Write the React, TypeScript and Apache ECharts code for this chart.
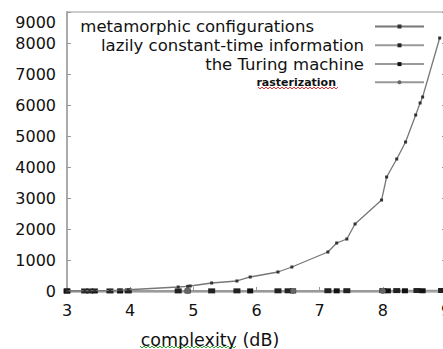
import React, { useEffect, useRef } from "react";
import * as echarts from "echarts";

const seriesNames = [
  "metamorphic configurations",
  "lazily constant-time information",
  "the Turing machine",
  "rasterization",
];

// metamorphic configurations (x = complexity dB, y = value)
const metaX = [3.0, 3.28, 3.36, 3.44, 3.68, 3.84, 3.97, 4.76, 4.91, 4.95, 5.29, 5.69, 5.9, 6.34, 6.56, 7.13, 7.27, 7.43, 7.56, 7.98, 8.06, 8.22, 8.36, 8.52, 8.59, 8.63, 8.9];
const metaY = [0, 5, 8, 10, 20, 30, 40, 129, 150, 161, 258, 323, 452, 613, 774, 1258, 1548, 1677, 2161, 2935, 3677, 4258, 4806, 5677, 6065, 6258, 8161];

const lazyX = [3.0, 3.28, 3.36, 3.68, 3.97, 4.76, 5.29, 5.69, 6.34, 6.5, 7.13, 7.43, 8.0, 8.22, 8.54, 8.93];
const lazyY = [0, 1, 1, 2, 2, 3, 4, 5, 6, 7, 9, 10, 12, 13, 15, 17];

const turingX = [3.0, 3.44, 3.84, 4.91, 5.9, 6.58, 7.27, 8.08, 8.35, 8.63];
const turingY = [0, 1, 1, 2, 3, 4, 5, 6, 7, 8];

const rasterX = [4.91, 6.58, 8.0];
const rasterY = [1, 2, 3];

const yTicks = [0, 1000, 2000, 3000, 4000, 5000, 6000, 7000, 8000, 9000];
const xTicks = [3, 4, 5, 6, 7, 8, 9];

const FONT = "DejaVu Sans";

function zigzag(x0: number, x1: number, y: number, step: number, amp: number) {
  const pts: number[][] = [];
  let i = 0;
  for (let x = x0; x <= x1; x += step) {
    pts.push([x, y + (i % 2 === 0 ? 0 : amp)]);
    i++;
  }
  return pts;
}

export default function App() {
  const ref = useRef<HTMLDivElement>(null);
  useEffect(() => {
    const chart = echarts.init(ref.current!, null, { renderer: "svg" });
    const pair = (xs: number[], ys: number[]) => xs.map((x, i) => [x, ys[i]]);
    const legendText = (pad: number, size: number, weight: string = "normal") => ({
      fontFamily: FONT,
      fontSize: size,
      fontWeight: weight,
      lineHeight: 15.5,
      color: "#111",
      padding: [0, pad, 0, 0],
    });
    chart.setOption({
      animation: false,
      grid: {
        left: 67,
        top: 12,
        right: -3,
        bottom: 58,
        outerBoundsMode: "none",
        containLabel: false,
        show: true,
        borderColor: "#999",
        borderWidth: 1,
      },
      legend: {
        orient: "vertical",
        align: "right",
        right: 13,
        top: 13,
        itemWidth: 49,
        itemHeight: 5,
        itemGap: 1.8,
        data: [
          { name: seriesNames[0], textStyle: legendText(56, 16.5) },
          { name: seriesNames[1], textStyle: legendText(6, 16.5) },
          { name: seriesNames[2], textStyle: legendText(6, 16.5) },
          { name: seriesNames[3], textStyle: legendText(34, 11, "bold") },
        ],
      },
      xAxis: {
        type: "value",
        min: 3,
        max: 9,
        interval: 1,
        name: "complexity (dB)",
        nameLocation: "middle",
        nameGap: 40,
        nameTextStyle: {
          fontFamily: FONT,
          fontSize: 17.5,
          color: "#111",
          padding: [0, 93, 0, 0],
        },
        axisLine: { lineStyle: { color: "#aaa", width: 2.5 } },
        axisTick: { inside: true, length: 4, lineStyle: { color: "#999" } },
        axisLabel: {
          fontFamily: FONT,
          fontSize: 16,
          color: "#111",
          margin: 11,
          formatter: (v: number) => (xTicks.includes(v) ? String(v) : ""),
        },
        splitLine: { show: false },
      },
      yAxis: [
        {
          type: "value",
          min: 0,
          max: 9000,
          interval: 1000,
          axisLine: { show: true, lineStyle: { color: "#aaa", width: 2 } },
          axisTick: { show: true, inside: true, length: 4, lineStyle: { color: "#999" } },
          axisLabel: {
            fontFamily: FONT,
            fontSize: 16,
            color: "#111",
            margin: 11,
            formatter: (v: number) =>
              yTicks.includes(v) ? (v === 9000 ? "{a|9000}" : String(v)) : "",
            rich: { a: { fontFamily: FONT, fontSize: 16, color: "#111", padding: [20, 0, 0, 0] } },
          },
          splitLine: { show: false },
        },
        {
          type: "value",
          min: 0,
          max: 9000,
          interval: 1000,
          position: "right",
          axisLine: { show: false },
          axisTick: { show: true, inside: true, length: 4, lineStyle: { color: "#999" } },
          axisLabel: { show: false },
          splitLine: { show: false },
        },
      ],
      series: [
        {
          name: seriesNames[0],
          type: "line",
          data: pair(metaX, metaY),
          symbol: "rect",
          symbolSize: 3,
          itemStyle: { color: "#333" },
          lineStyle: { color: "#777", width: 1.3 },
          z: 5,
        },
        {
          name: seriesNames[1],
          type: "line",
          data: pair(lazyX, lazyY),
          symbol: "rect",
          symbolSize: [7, 5],
          itemStyle: { color: "#222" },
          lineStyle: { color: "#999", width: 1.5 },
        },
        {
          name: seriesNames[2],
          type: "line",
          data: pair(turingX, turingY),
          symbol: "rect",
          symbolSize: [6, 5],
          itemStyle: { color: "#111" },
          lineStyle: { color: "#999", width: 1.5 },
        },
        {
          name: seriesNames[3],
          type: "line",
          data: pair(rasterX, rasterY),
          symbol: "circle",
          symbolSize: 6,
          itemStyle: { color: "#666" },
          lineStyle: { color: "#999", width: 1.5 },
        },
      ],
      graphic: [
        {
          type: "polyline",
          shape: { points: zigzag(258, 338, 87, 2, 2) },
          style: { stroke: "#e33", lineWidth: 1, fill: null },
          silent: true,
        },
        {
          type: "polyline",
          shape: { points: zigzag(140, 237, 346, 2, 2) },
          style: { stroke: "#3a3", lineWidth: 1, fill: null },
          silent: true,
        },
      ],
    });
    return () => chart.dispose();
  }, []);
  return (
    <div
      ref={ref}
      style={{ position: "fixed", left: 0, top: 0, width: 443, height: 349, background: "#fff" }}
    />
  );
}
